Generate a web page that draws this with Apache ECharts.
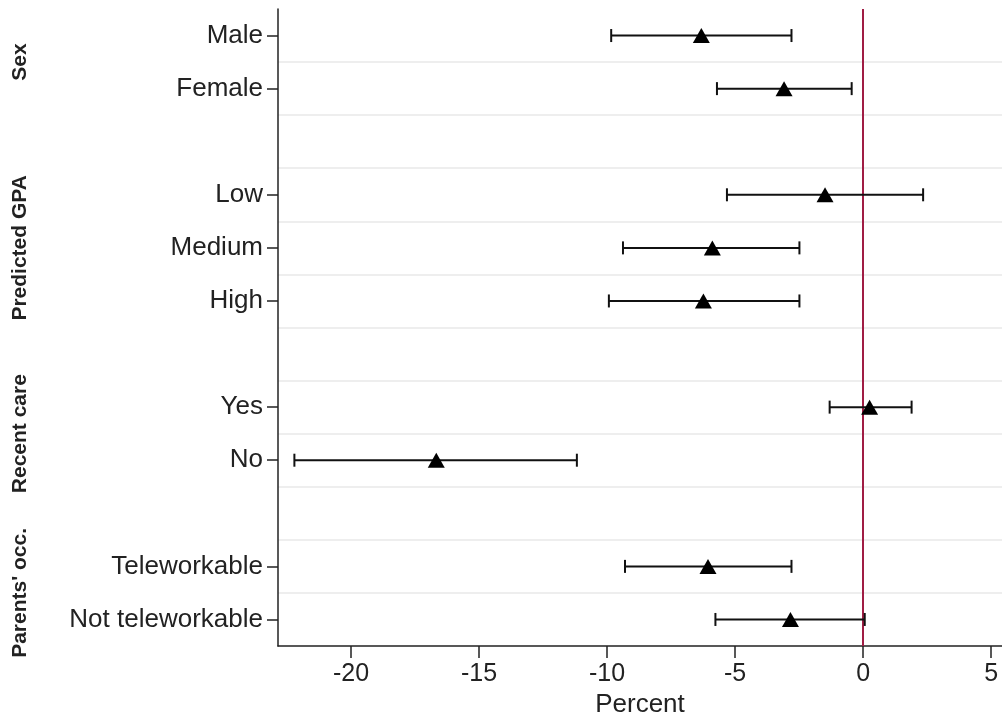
<!DOCTYPE html>
<html>
<head>
<meta charset="utf-8">
<script src="https://cdn.jsdelivr.net/npm/echarts@6/dist/echarts.min.js"></script>
<style>
html,body{margin:0;padding:0;background:#fff;}
#chart{width:1002px;height:715px;}
</style>
</head>
<body>
<div id="chart"></div>
<script>
// ---- data ----
const categories = ['Male', 'Female', ' ', 'Low', 'Medium', 'High', '  ', 'Yes', 'No', '   ', 'Teleworkable', 'Not teleworkable'];
const estimates = [-6.32, -3.09, null, -1.49, -5.89, -6.24, null, 0.25, -16.67, null, -6.06, -2.84];
const lowerCI  = [-9.84, -5.71, null, -5.32, -9.38, -9.93, null, -1.31, -22.21, null, -9.30, -5.77];
const upperCI  = [-2.80, -0.45, null, 2.34, -2.49, -2.49, null, 1.89, -11.18, null, -2.80, 0.06];
const groupNames = ['Sex', 'Predicted GPA', 'Recent care', "Parents' occ."];
const groupFirst = ['Male', 'Low', 'Yes', 'Teleworkable'];
const groupLast  = ['Female', 'High', 'No', 'Not teleworkable'];
const xTicks = [-20, -15, -10, -5, 0, 5];
const xMin = -22.85, xMax = 5.42;

const FONT = '"Liberation Sans", Arial, Helvetica, sans-serif';
const chart = echarts.init(document.getElementById('chart'));

const barData = [];
const ptData = [];
categories.forEach((c, i) => {
  if (estimates[i] !== null) {
    barData.push([lowerCI[i], upperCI[i], i]);
    ptData.push([estimates[i], i]);
  }
});

const labeled = (idx) => categories[idx].trim() !== '';

chart.setOption({
  animation: false,
  backgroundColor: '#ffffff',
  grid: { left: 278, top: 9, width: 724, height: 637, containLabel: false, outerBoundsMode: 'none' },
  xAxis: {
    type: 'value',
    min: xMin, max: xMax,
    name: 'Percent',
    nameLocation: 'middle',
    nameGap: 43,
    nameTextStyle: { fontFamily: FONT, fontSize: 26, color: '#222' },
    axisLine: { show: true, onZero: false, lineStyle: { color: '#222', width: 1.5 } },
    axisTick: { show: true, length: 12, customValues: xTicks, lineStyle: { color: '#222', width: 1.5 } },
    axisLabel: { customValues: xTicks, fontFamily: FONT, fontSize: 25, color: '#222', margin: 16 },
    splitLine: { show: false }
  },
  yAxis: {
    type: 'category',
    data: categories,
    inverse: true,
    boundaryGap: true,
    axisLine: { show: true, onZero: false, lineStyle: { color: '#222', width: 1.5 } },
    axisTick: {
      show: true, length: 11, alignWithLabel: true,
      interval: (idx) => labeled(idx),
      lineStyle: { color: '#222', width: 1.5 }
    },
    axisLabel: { interval: 0, fontFamily: FONT, fontSize: 26, color: '#222', margin: 15, padding: [4, 0, 0, 0] },
    splitLine: { show: true, interval: 0, showMinLine: false, showMaxLine: false, lineStyle: { color: '#e9e9e9', width: 1.5 } }
  },
  series: [
    {
      type: 'custom',
      data: barData,
      encode: { x: [0, 1], y: 2 },
      renderItem: function (params, api) {
        const y = api.value(2);
        const lo = api.coord([api.value(0), y]);
        const hi = api.coord([api.value(1), y]);
        const h = 6.5;
        const st = { stroke: '#111', lineWidth: 2 };
        return {
          type: 'group',
          children: [
            { type: 'line', shape: { x1: lo[0], y1: lo[1], x2: hi[0], y2: hi[1] }, style: st },
            { type: 'line', shape: { x1: lo[0], y1: lo[1] - h, x2: lo[0], y2: lo[1] + h }, style: st },
            { type: 'line', shape: { x1: hi[0], y1: hi[1] - h, x2: hi[0], y2: hi[1] + h }, style: st }
          ]
        };
      },
      z: 2
    },
    {
      type: 'scatter',
      data: ptData,
      symbol: 'triangle',
      symbolSize: [17, 15],
      itemStyle: { color: '#000', opacity: 1 },
      z: 3,
      markLine: {
        silent: true,
        symbol: ['none', 'none'],
        label: { show: false },
        lineStyle: { color: '#a01d44', width: 2, type: 'solid', opacity: 1 },
        data: [{ xAxis: 0 }],
        z: 1
      }
    }
  ]
});

// group labels on the left, centred on their rows
const graphics = groupNames.map((name, g) => {
  const y1 = chart.convertToPixel({ yAxisIndex: 0 }, groupFirst[g]);
  const y2 = chart.convertToPixel({ yAxisIndex: 0 }, groupLast[g]);
  return {
    type: 'text',
    x: 20,
    y: (y1 + y2) / 2,
    rotation: Math.PI / 2,
    style: {
      text: name,
      font: 'bold 21px ' + FONT,
      fill: '#222',
      align: 'center',
      verticalAlign: 'middle'
    }
  };
});
chart.setOption({ graphic: graphics });
</script>
</body>
</html>
